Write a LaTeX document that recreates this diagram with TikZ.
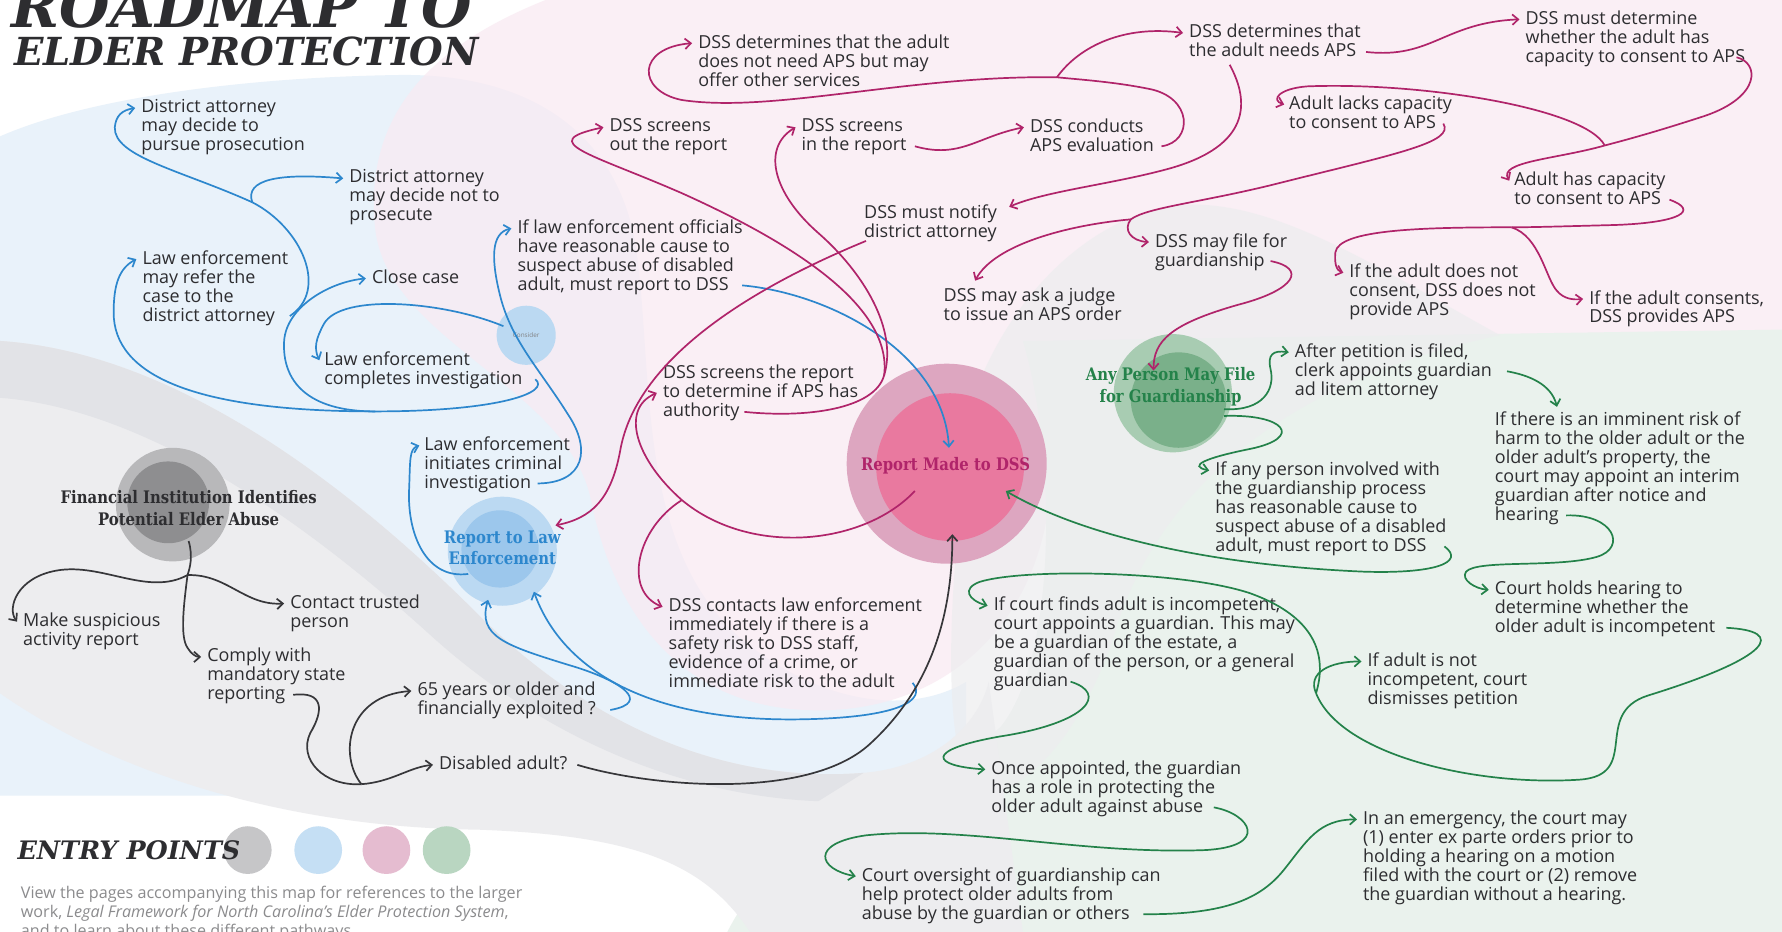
\documentclass[tikz,border=0pt]{standalone}
\usepackage{fontspec}
\setmainfont{Open Sans}
\newfontfamily\slab[FakeStretch=0.86]{DejaVu Serif}
\newfontfamily\titlefont{DejaVu Serif}
\usetikzlibrary{arrows.meta}

\definecolor{inkc}{RGB}{45,45,48}
\definecolor{bluec}{RGB}{45,135,205}
\definecolor{pinkc}{RGB}{176,36,106}
\definecolor{greenc}{RGB}{36,130,74}
\definecolor{darkc}{RGB}{55,55,58}
\definecolor{bgblue}{RGB}{233,242,250}
\definecolor{bgpink}{RGB}{249,234,242}
\definecolor{bggray}{RGB}{237,237,239}
\definecolor{bgstripe}{RGB}{226,227,231}
\definecolor{bggreen}{RGB}{234,242,237}
\definecolor{pinkout}{RGB}{221,166,192}
\definecolor{pinkin}{RGB}{233,121,159}
\definecolor{blueout}{RGB}{187,217,242}
\definecolor{bluein}{RGB}{156,199,236}
\definecolor{grayout}{RGB}{184,184,186}
\definecolor{grayin}{RGB}{142,142,144}
\definecolor{greenout}{RGB}{168,204,178}
\definecolor{greenin}{RGB}{122,176,138}

\tikzset{
  txt/.style={anchor=north west, inner sep=0pt, align=left, text=inkc,
    font=\fontsize{7.9}{8.35}\selectfont},
  flow/.style={line width=0.75pt, -{Straight Barb[length=2.6pt,width=4.6pt]}},
  bl/.style={flow, draw=bluec},
  pk/.style={flow, draw=pinkc},
  gn/.style={flow, draw=greenc},
  dk/.style={flow, draw=darkc},
  hub/.style={circle, inner sep=0pt, minimum size=#1},
  hublbl/.style={align=center, inner sep=0pt,
    font=\slab\bfseries\fontsize{7.6}{9.6}\selectfont},
}

\begin{document}
\begin{tikzpicture}[x=0.5pt,y=-0.5pt]
\useasboundingbox (0,0) rectangle (1568,820);
\fill[white] (0,0) rectangle (1568,820);

% background areas
\fill[bgblue] (0,120) .. controls (80,85) and (220,68) .. (350,66) .. controls (470,64) and (545,120) .. (560,220) .. controls (575,330) and (560,480) .. (650,560) .. controls (720,620) and (800,630) .. (850,600) -- (850,700) -- (0,700) -- cycle;
\fill[bgpink, opacity=0.75] (330,200) .. controls (320,100) and (380,40) .. (480,0) -- (1568,0) -- (1568,292) .. controls (1480,300) and (1300,300) .. (1150,305) .. controls (1000,310) and (930,330) .. (925,420) .. controls (920,540) and (840,625) .. (720,625) .. controls (600,625) and (540,540) .. (520,440) .. controls (500,340) and (340,300) .. (330,200) -- cycle;
\fill[bggreen] (900,300) -- (1568,290) -- (1568,820) -- (640,820) .. controls (690,720) and (820,690) .. (880,640) .. controls (930,580) and (930,400) .. (900,300) -- cycle;
\fill[bggray, opacity=0.7] (860,340) .. controls (900,240) and (980,180) .. (1050,180) .. controls (1130,180) and (1220,240) .. (1320,295) .. controls (1150,330) and (1020,420) .. (980,560) .. controls (950,650) and (900,700) .. (860,700) .. controls (820,660) and (840,450) .. (860,340) -- cycle;
\fill[bggray] (0,300) .. controls (150,310) and (300,420) .. (420,540) .. controls (520,640) and (640,690) .. (760,680) .. controls (820,675) and (860,640) .. (870,600) -- (900,820) -- (660,820) .. controls (620,760) and (560,735) .. (420,730) .. controls (250,728) and (100,680) .. (0,610) -- cycle;
\fill[bgstripe] (0,300) .. controls (150,310) and (300,420) .. (420,540) .. controls (520,640) and (640,690) .. (760,680) -- (720,705) .. controls (600,700) and (480,650) .. (380,560) .. controls (270,460) and (130,360) .. (0,350) -- cycle;

% title
\node[anchor=base west, inner sep=0pt, text=inkc, font=\titlefont\bfseries\itshape\fontsize{25.5}{25.5}\selectfont] (ttla) at (10,24) {ROADMAP TO};
\node[anchor=base west, inner sep=0pt, text=inkc, font=\titlefont\bfseries\itshape\fontsize{17}{17}\selectfont] (ttlb) at (12,58) {ELDER PROTECTION};

% hubs
\node[hub=50pt, fill=grayout] (fin) at (152,444) {};
\fill[grayin] (148,442) circle (18pt);
\node[hub=48pt, fill=blueout] (law) at (442,485) {};
\fill[bluein] (440,483) circle (17pt);
\node[hub=26pt, fill=blueout] (consider) at (463,295) {};
\node[hub=88pt, fill=pinkout] (dss) at (833,408) {};
\fill[pinkin] (836,411) circle (32.5pt);
\node[hub=52pt, fill=greenout] (anyp) at (1032,346) {};
\fill[greenin] (1037,352) circle (21pt);

\node[hublbl, text=inkc] (finlbl) at (166,447) {Financial Institution Identifies\\Potential Elder Abuse};
\node[hublbl, text=bluec] (lawlbl) at (442,482) {Report to Law\\Enforcement};
\node[inner sep=0pt, text=inkc!60, font=\fontsize{2.8}{3}\selectfont] (conslbl) at (463,295) {Consider};
\node[hublbl, text=pinkc] (dsslbl) at (832,410) {Report Made to DSS};
\node[hublbl, text=greenc] (anylbl) at (1030,340) {Any Person May File\\for Guardianship};

% law enforcement texts
\node[txt] (dapursue) at (124,87) {District attorney\\may decide to\\pursue prosecution};
\node[txt] (danot) at (307,149) {District attorney\\may decide not to\\prosecute};
\node[txt] (refer) at (125,220) {Law enforcement\\may refer the\\case to the\\district attorney};
\node[txt] (closecase) at (327,237) {Close case};
\node[txt] (completes) at (285,309) {Law enforcement\\completes investigation};
\node[txt] (initiates) at (373,384) {Law enforcement\\initiates criminal\\investigation};
\node[txt] (iflaw) at (455,193) {If law enforcement officials\\have reasonable cause to\\suspect abuse of disabled\\adult, must report to DSS};

% financial institution texts
\node[txt] (suspicious) at (20,539) {Make suspicious\\activity report};
\node[txt] (trusted) at (255,523) {Contact trusted\\person};
\node[txt] (comply) at (182,570) {Comply with\\mandatory state\\reporting};
\node[txt] (sixtyfive) at (367,600) {65 years or older and\\financially exploited ?};
\node[txt] (disabled) at (386,665) {Disabled adult?};

% DSS texts
\node[txt] (notneed) at (614,30) {DSS determines that the adult\\does not need APS but may\\offer other services};
\node[txt] (screensout) at (536,104) {DSS screens\\out the report};
\node[txt] (screensin) at (705,104) {DSS screens\\in the report};
\node[txt] (conducts) at (906,104) {DSS conducts\\APS evaluation};
\node[txt] (needs) at (1046,21) {DSS determines that\\the adult needs APS};
\node[txt] (mustdet) at (1342,9) {DSS must determine\\whether the adult has\\capacity to consent to APS};
\node[txt] (lacks) at (1134,84) {Adult lacks capacity\\to consent to APS};
\node[txt] (hascap) at (1332,151) {Adult has capacity\\to consent to APS};
\node[txt] (notify) at (760,180) {DSS must notify\\district attorney};
\node[txt] (mayfile) at (1016,205) {DSS may file for\\guardianship};
\node[txt] (askjudge) at (830,253) {DSS may ask a judge\\to issue an APS order};
\node[txt] (noconsent) at (1187,232) {If the adult does not\\consent, DSS does not\\provide APS};
\node[txt] (consents) at (1398,255) {If the adult consents,\\DSS provides APS};
\node[txt] (screenauth) at (583,321) {DSS screens the report\\to determine if APS has\\authority};
\node[txt] (contacts) at (588,526) {DSS contacts law enforcement\\immediately if there is a\\safety risk to DSS staff,\\evidence of a crime, or\\immediate risk to the adult};

% guardianship texts
\node[txt] (petition) at (1139,302) {After petition is filed,\\clerk appoints guardian\\ad litem attorney};
\node[txt] (anyinvolved) at (1069,406) {If any person involved with\\the guardianship process\\has reasonable cause to\\suspect abuse of a disabled\\adult, must report to DSS};
\node[txt] (imminent) at (1315,362) {If there is an imminent risk of\\harm to the older adult or the\\older adult’s property, the\\court may appoint an interim\\guardian after notice and\\hearing};
\node[txt] (holds) at (1315,511) {Court holds hearing to\\determine whether the\\older adult is incompetent};
\node[txt] (finds) at (874,525) {If court finds adult is incompetent,\\court appoints a guardian. This may\\be a guardian of the estate, a\\guardian of the person, or a general\\guardian};
\node[txt] (notincomp) at (1203,574) {If adult is not\\incompetent, court\\dismisses petition};
\node[txt] (onceapp) at (872,669) {Once appointed, the guardian\\has a role in protecting the\\older adult against abuse};
\node[txt] (oversight) at (758,763) {Court oversight of guardianship can\\help protect older adults from\\abuse by the guardian or others};
\node[txt] (emergency) at (1199,713) {In an emergency, the court may\\(1) enter ex parte orders prior to\\holding a hearing on a motion\\filed with the court or (2) remove\\the guardian without a hearing.};

% junctions
\coordinate (daj) at (222,178);
\coordinate (cmj) at (330,362);
\coordinate (finj) at (165,506);
\coordinate (cpj) at (318,690);
\coordinate (dssj) at (600,440);
\coordinate (saj) at (778,330);
\coordinate (cnj) at (930,68);
\coordinate (mdj) at (1412,128);
\coordinate (lj) at (995,193);
\coordinate (hcj) at (1330,200);
\coordinate (hj) at (1158,610);

% law enforcement flow
\draw[bl,-] ([shift={(130,58.1)}]refer.north west) .. controls (290,255) and (265,200) .. (daj);
\draw[bl] (daj) .. controls (160,150) and (100,138) .. (101,112) .. controls (102,102) and (107,97) .. ([shift={(-5,8)}]dapursue.north west);
\draw[bl] (daj) .. controls (215,158) and (245,152) .. ([shift={(-5,8)}]danot.north west);
\draw[bl,-] ([shift={(186,24.7)}]completes.north west) .. controls (485,345) and (440,362) .. (cmj);
\draw[bl] (cmj) .. controls (170,362) and (100,330) .. (100,275) .. controls (100,250) and (105,236) .. ([shift={(-5,8)}]refer.north west);
\draw[bl] (cmj) .. controls (270,362) and (248,335) .. (250,300) .. controls (252,270) and (290,248) .. ([shift={(-5,8)}]closecase.north west);
\draw[bl] ([shift={(-20,-8)}]consider.center) .. controls (390,265) and (300,258) .. (285,285) .. controls (278,298) and (276,306) .. ([shift={(-4,8)}]completes.north west);
\draw[bl] ([shift={(100,41.4)}]initiates.north west) .. controls (515,425) and (520,395) .. (500,365) .. controls (475,325) and (450,300) .. (440,260) .. controls (432,228) and (432,205) .. ([shift={(-5,8)}]iflaw.north west);
\draw[bl] ([shift={(-30,20)}]law.center) .. controls (375,510) and (358,470) .. (360,430) .. controls (361,405) and (360,395) .. ([shift={(-4,8)}]initiates.north west);
\draw[bl] ([shift={(198,58.1)}]iflaw.north west) .. controls (730,258) and (830,310) .. ([shift={(2,-14)}]dss.center);
\draw[bl] ([shift={(170,24.7)}]sixtyfive.north west) .. controls (575,618) and (545,598) .. (500,585) .. controls (445,568) and (420,560) .. ([shift={(0,-4)}]law.255);
\draw[bl] ([shift={(215,74.8)}]contacts.north west) .. controls (815,615) and (795,632) .. (700,633) .. controls (570,634) and (495,590) .. ([shift={(0,-4)}]law.305);

% financial institution flow
\draw[dk,-] ([shift={(14,32)}]fin.center) .. controls (170,490) and (167,500) .. (finj);
\draw[dk] (finj) .. controls (130,525) and (90,495) .. (50,502) .. controls (15,508) and (6,535) .. ([shift={(-5,8)}]suspicious.north west);
\draw[dk] (finj) .. controls (200,505) and (215,533) .. ([shift={(-5,8)}]trusted.north west);
\draw[dk] (finj) .. controls (162,530) and (158,560) .. (165,570) .. controls (168,575) and (172,578) .. ([shift={(-5,8)}]comply.north west);
\draw[dk,-] ([shift={(76,41.4)}]comply.north west) .. controls (285,608) and (285,625) .. (273,645) .. controls (262,668) and (285,692) .. (cpj);
\draw[dk] (cpj) .. controls (345,688) and (360,675) .. ([shift={(-5,8)}]disabled.north west);
\draw[dk] (cpj) .. controls (298,665) and (305,612) .. ([shift={(-5,8)}]sixtyfive.north west);
\draw[dk] ([shift={(122,8)}]disabled.north west) .. controls (570,692) and (710,705) .. (765,655) .. controls (820,605) and (838,540) .. ([shift={(5,62)}]dss.center);

% DSS flow
\draw[pk,-] ([shift={(-28,24)}]dss.center) .. controls (760,480) and (660,490) .. (dssj);
\draw[pk] (dssj) .. controls (560,405) and (545,360) .. ([shift={(-5,24.7)}]screenauth.north west);
\draw[pk] (dssj) .. controls (560,465) and (548,520) .. ([shift={(-5,8)}]contacts.north west);
\draw[pk,-] ([shift={(72,41.4)}]screenauth.north west) .. controls (710,368) and (770,360) .. (saj);
\draw[pk] (saj) .. controls (790,290) and (760,240) .. (720,205) .. controls (680,170) and (670,130) .. ([shift={(-5,8)}]screensin.north west);
\draw[pk] (saj) .. controls (785,270) and (700,215) .. (600,170) .. controls (520,135) and (470,125) .. ([shift={(-5,8)}]screensout.north west);
\draw[pk] ([shift={(100,24.7)}]screensin.north west) .. controls (845,140) and (860,120) .. ([shift={(-5,8)}]conducts.north west);
\draw[pk,-] ([shift={(116,24.7)}]conducts.north west) .. controls (1050,125) and (1050,85) .. (1010,78) .. controls (980,72) and (950,70) .. (cnj);
\draw[pk] (cnj) .. controls (800,66) and (680,100) .. (600,88) .. controls (560,80) and (560,42) .. ([shift={(-5,8)}]notneed.north west);
\draw[pk] (cnj) .. controls (950,40) and (990,22) .. ([shift={(-5,8)}]needs.north west);
\draw[pk] ([shift={(156,24.7)}]needs.north west) .. controls (1260,52) and (1270,20) .. ([shift={(-5,8)}]mustdet.north west);
\draw[pk] ([shift={(36,36)}]needs.north west) .. controls (1100,90) and (1100,128) .. (1030,148) .. controls (980,162) and (920,168) .. ([shift={(128,2)}]notify.north west);
\draw[pk,-] ([shift={(186,41.4)}]mustdet.north west) .. controls (1548,55) and (1550,85) .. (1500,102) .. controls (1460,115) and (1435,122) .. (mdj);
\draw[pk] (mdj) .. controls (1370,140) and (1318,142) .. ([shift={(-4,8)}]hascap.north west);
\draw[pk] (mdj) .. controls (1395,95) and (1250,72) .. (1150,76) .. controls (1125,78) and (1118,88) .. ([shift={(-4,8)}]lacks.north west);
\draw[pk,-] ([shift={(136,24.7)}]lacks.north west) .. controls (1280,125) and (1230,135) .. (1130,160) .. controls (1060,178) and (1010,182) .. (lj);
\draw[pk] (lj) .. controls (988,202) and (995,212) .. ([shift={(-5,8)}]mayfile.north west);
\draw[pk] (lj) .. controls (940,198) and (875,215) .. ([shift={(28,-6)}]askjudge.north west);
\draw[pk,-] ([shift={(137,24.7)}]hascap.north west) .. controls (1495,185) and (1480,196) .. (1420,198) .. controls (1380,199) and (1350,200) .. (hcj);
\draw[pk] (hcj) .. controls (1250,200) and (1178,202) .. (1175,222) .. controls (1174,232) and (1176,238) .. ([shift={(-5,8)}]noconsent.north west);
\draw[pk] (hcj) .. controls (1355,208) and (1360,245) .. (1370,256) .. controls (1376,263) and (1384,264) .. ([shift={(-5,8)}]consents.north west);
\draw[pk] ([shift={(102,24.7)}]mayfile.north west) .. controls (1150,236) and (1140,255) .. (1090,268) .. controls (1030,285) and (1015,300) .. ([shift={(-17,-20)}]anyp.center);
\draw[pk] ([shift={(2,32)}]notify.north west) .. controls (650,258) and (560,320) .. (546,395) .. controls (538,440) and (520,456) .. ([shift={(4,0)}]law.28);

% guardianship flow
\draw[gn] ([shift={(45,14)}]anyp.center) .. controls (1112,362) and (1122,342) .. (1118,325) .. controls (1115,312) and (1120,308) .. ([shift={(-5,8)}]petition.north west);
\draw[gn] ([shift={(45,20)}]anyp.center) .. controls (1130,364) and (1148,385) .. (1100,395) .. controls (1060,403) and (1045,410) .. ([shift={(-5,8)}]anyinvolved.north west);
\draw[gn] ([shift={(187,24.7)}]petition.north west) .. controls (1345,330) and (1365,338) .. ([shift={(55,-4)}]imminent.north west);
\draw[gn] ([shift={(63,91.5)}]imminent.north west) .. controls (1420,452) and (1432,482) .. (1405,490) .. controls (1370,500) and (1300,492) .. (1290,503) .. controls (1285,510) and (1298,518) .. ([shift={(-5,8)}]holds.north west);
\draw[gn,-] ([shift={(204,41.4)}]holds.north west) .. controls (1572,555) and (1560,578) .. (1450,612) .. controls (1400,628) and (1445,682) .. (1390,686) .. controls (1300,692) and (1180,665) .. (hj);
\draw[gn] (hj) .. controls (1150,592) and (1170,582) .. ([shift={(-5,8)}]notincomp.north west);
\draw[gn] (hj) .. controls (1170,570) and (1150,540) .. (1100,522) .. controls (1040,502) and (900,500) .. (862,512) .. controls (846,518) and (852,528) .. ([shift={(-5,8)}]finds.north west);
\draw[gn] ([shift={(202,74.8)}]anyinvolved.north west) .. controls (1290,495) and (1262,505) .. (1200,503) .. controls (1060,497) and (950,470) .. ([shift={(52,24)}]dss.center);
\draw[gn] ([shift={(68,74.8)}]finds.north west) .. controls (975,610) and (958,636) .. (880,648) .. controls (812,660) and (820,674) .. ([shift={(-5,8)}]onceapp.north west);
\draw[gn] ([shift={(196,41.4)}]onceapp.north west) .. controls (1100,716) and (1118,745) .. (1060,748) .. controls (950,752) and (850,726) .. (762,735) .. controls (712,742) and (720,765) .. ([shift={(-5,8)}]oversight.north west);
\draw[gn] ([shift={(248,41.4)}]oversight.north west) .. controls (1080,805) and (1110,790) .. (1130,765) .. controls (1150,740) and (1160,721) .. ([shift={(-5,8)}]emergency.north west);

% legend
\fill[grayout!80] (218,748) circle (10.5pt);
\fill[blueout!85] (280,748) circle (10.5pt);
\fill[pinkout!75] (340,748) circle (10.5pt);
\fill[greenout!80] (393,748) circle (10.5pt);
\node[anchor=west, inner sep=0pt, text=inkc, font=\titlefont\bfseries\itshape\fontsize{11.2}{11.2}\selectfont] (entry) at (15,748) {ENTRY POINTS};
\node[anchor=north west, inner sep=0pt, align=left, text=inkc!55, font=\fontsize{7.1}{8.5}\selectfont] (footer) at (18,779) {View the pages accompanying this map for references to the larger\\work, \textit{Legal Framework for North Carolina’s Elder Protection System},\\and to learn about these different pathways.};
\end{tikzpicture}
\end{document}
